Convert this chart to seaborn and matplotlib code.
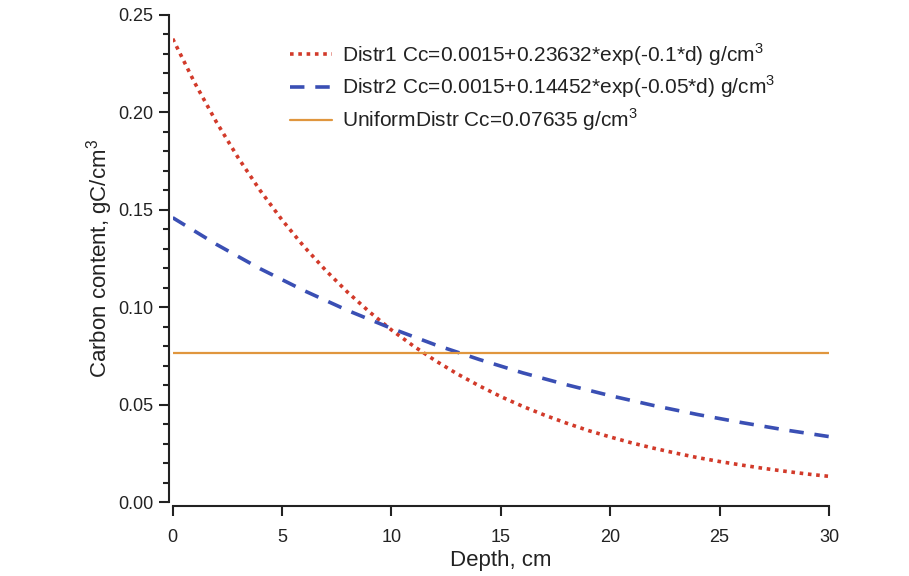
import numpy as np
import pandas as pd
import matplotlib
matplotlib.use("Agg")
import matplotlib.pyplot as plt
import seaborn as sns

# values
depth1 = list(range(0, 31))
carbon1 = [0.2378, 0.2153, 0.1950, 0.1766, 0.1599, 0.1448, 0.1312, 0.1189,
           0.1077, 0.0976, 0.0884, 0.0802, 0.0727, 0.0659, 0.0598, 0.0542,
           0.0492, 0.0447, 0.0406, 0.0368, 0.0335, 0.0304, 0.0277, 0.0252,
           0.0229, 0.0209, 0.0191, 0.0174, 0.0159, 0.0145, 0.0133]

depth2 = list(range(0, 31, 2))
carbon2 = [0.1460, 0.1323, 0.1198, 0.1086, 0.0984, 0.0892, 0.0808, 0.0733,
           0.0664, 0.0603, 0.0547, 0.0496, 0.0450, 0.0409, 0.0371, 0.0337]

depth_u = [0, 30]
carbon_u = [0.07635, 0.07635]

labels = [
    r"Distr1 Cc=0.0015+0.23632*exp(-0.1*d) g/cm$^3$",
    r"Distr2 Cc=0.0015+0.14452*exp(-0.05*d) g/cm$^3$",
    r"UniformDistr Cc=0.07635 g/cm$^3$",
]
x_ticks = [0, 5, 10, 15, 20, 25, 30]
y_ticks = [0.00, 0.05, 0.10, 0.15, 0.20, 0.25]

sns.set_style("ticks")
plt.rcParams['font.family'] = ['Liberation Sans', 'DejaVu Sans']
plt.rcParams['mathtext.fontset'] = 'custom'
plt.rcParams['mathtext.rm'] = 'Liberation Sans'

fig = plt.figure(figsize=(9.09, 5.76), dpi=100)
ax = fig.add_axes([0.190, 0.128, 0.722, 0.846])

df1 = pd.DataFrame({"depth": depth1, "carbon": carbon1})
df2 = pd.DataFrame({"depth": depth2, "carbon": carbon2})
dfu = pd.DataFrame({"depth": depth_u, "carbon": carbon_u})

sns.lineplot(data=df1, x="depth", y="carbon", ax=ax, color="#d23a2a",
             linewidth=2.6, linestyle=(0, (1, 1.3)), label=labels[0])
sns.lineplot(data=df2, x="depth", y="carbon", ax=ax, color="#3a4fb4",
             linewidth=2.6, linestyle=(0, (4, 3)), label=labels[1])
sns.lineplot(data=dfu, x="depth", y="carbon", ax=ax, color="#e0963e",
             linewidth=1.6, label=labels[2])

ax.set_xlim(0, 30)
ax.set_ylim(0, 0.25)
ax.set_xticks(x_ticks)
ax.set_yticks(y_ticks)
ax.set_yticklabels([f"{v:.2f}" for v in y_ticks])
ax.yaxis.set_minor_locator(matplotlib.ticker.MultipleLocator(0.01))

sns.despine(ax=ax)
ax.spines["left"].set_position(("outward", 3))
ax.spines["bottom"].set_position(("outward", 3))
for s in ["left", "bottom"]:
    ax.spines[s].set_linewidth(1.5)
    ax.spines[s].set_color("#222222")
ax.tick_params(axis="both", which="major", length=7, width=1.5,
               labelsize=13, colors="#222222", pad=4)
ax.tick_params(axis="x", which="major", pad=9)
ax.tick_params(axis="y", which="minor", length=4, width=1.5, color="#222222")

ax.set_xlabel("Depth, cm", fontsize=16, color="#222222", labelpad=3)
ax.set_ylabel(r"Carbon content, gC/cm$^3$", fontsize=16, color="#222222",
              labelpad=2)

leg = ax.legend(loc="upper left", bbox_to_anchor=(0.15, 0.985), frameon=False,
                fontsize=15, handlelength=2.0, handletextpad=0.5,
                labelspacing=0.3)
for t in leg.get_texts():
    t.set_color("#222222")

fig.savefig("out.png", dpi=100)
